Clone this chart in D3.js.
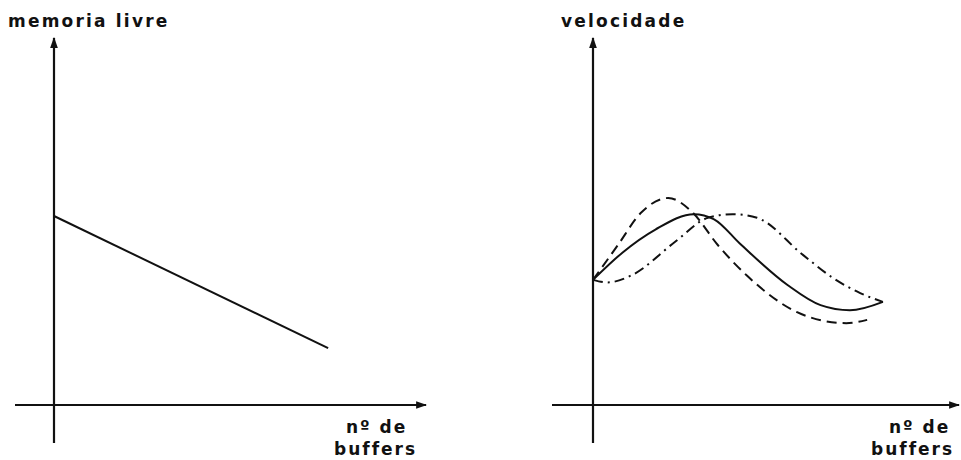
<!DOCTYPE html>
<html>
<head>
<meta charset="utf-8">
<script src="https://cdn.jsdelivr.net/npm/d3@7"></script>
<style>
  body { margin: 0; background: #fff; }
  text { font-family: "DejaVu Sans", sans-serif; fill: #111; }
</style>
</head>
<body>
<div id="chart"></div>
<script>
// data in 0..100 units (x = nº de buffers, y = quantity)
const memoriaLivre = [[0, 51.5], [74.7, 15.5]];

const velSolid = [[0, 34.1], [8, 41.5], [17, 47.8], [27.5, 52.0], [33, 50.6], [40, 44.0],
  [53, 32.7], [62, 27.2], [70, 25.8], [79, 28.1]];

const velDashed = [[0, 34.1], [6.8, 43.6], [13, 52.3], [20.5, 56.4], [27, 52.6], [34, 43.6],
  [42, 35.2], [55.6, 25.3], [63, 22.9], [69, 22.3], [74.7, 23.2]];

const velDashDot = [[0, 34.1], [4, 33.4], [10.6, 35.4], [22.3, 44.4], [31.3, 51.0], [38, 52.0],
  [44.7, 51.0], [57.2, 40.9], [65.4, 34.6], [72.8, 30.5], [79, 28.1]];

const width = 961, height = 460;

const svg = d3.select("#chart").append("svg")
    .attr("width", width)
    .attr("height", height);

// arrow head
svg.append("defs").append("marker")
    .attr("id", "arrow")
    .attr("viewBox", "0 0 10 10")
    .attr("refX", 9).attr("refY", 5)
    .attr("markerWidth", 5).attr("markerHeight", 5)
    .attr("markerUnits", "strokeWidth")
    .attr("orient", "auto")
  .append("path")
    .attr("d", "M0,1.5 L10,5 L0,8.5 Z")
    .attr("fill", "#111");

const panels = [
  { ox: 54, left: 15, right: 426, title: "memoria livre", titleX: 8, noX: 346, bufX: 334,
    series: [{ data: memoriaLivre, dash: null }] },
  { ox: 593, left: 552, right: 959, title: "velocidade", titleX: 561, noX: 889, bufX: 871,
    series: [
      { data: velSolid, dash: null },
      { data: velDashed, dash: "10,6" },
      { data: velDashDot, dash: "10,5,2,5" }
    ] }
];

const axisY = 405, axisTop = 38, axisBottom = 443;

panels.forEach(p => {
  let g = svg.append("g");

  let x = d3.scaleLinear().domain([0, 100]).range([p.ox, p.ox + 367]);
  let y = d3.scaleLinear().domain([0, 100]).range([axisY, axisY - 367]);

  // axes
  g.append("line")
      .attr("x1", p.left).attr("y1", axisY)
      .attr("x2", p.right).attr("y2", axisY)
      .attr("stroke", "#111").attr("stroke-width", 2.2)
      .attr("marker-end", "url(#arrow)");
  g.append("line")
      .attr("x1", p.ox).attr("y1", axisBottom)
      .attr("x2", p.ox).attr("y2", axisTop)
      .attr("stroke", "#111").attr("stroke-width", 2.2)
      .attr("marker-end", "url(#arrow)");

  // curves
  let line = d3.line()
      .x(d => x(d[0]))
      .y(d => y(d[1]))
      .curve(d3.curveMonotoneX);

  g.selectAll("path.curve")
    .data(p.series)
    .enter()
    .append("path")
      .attr("class", "curve")
      .attr("d", d => line(d.data))
      .attr("fill", "none")
      .attr("stroke", "#111")
      .attr("stroke-width", 2)
      .attr("stroke-dasharray", d => d.dash);

  // labels
  g.append("text")
      .attr("x", p.titleX).attr("y", 27)
      .attr("font-size", 17)
      .attr("font-weight", "bold")
      .attr("letter-spacing", 2.2)
      .text(p.title);

  g.append("text")
      .attr("x", p.noX).attr("y", 433)
      .attr("font-size", 17)
      .attr("font-weight", "bold")
      .attr("letter-spacing", 2)
      .text("nº de");
  g.append("text")
      .attr("x", p.bufX).attr("y", 455)
      .attr("font-size", 17)
      .attr("font-weight", "bold")
      .attr("letter-spacing", 2)
      .text("buffers");
});
</script>
</body>
</html>
